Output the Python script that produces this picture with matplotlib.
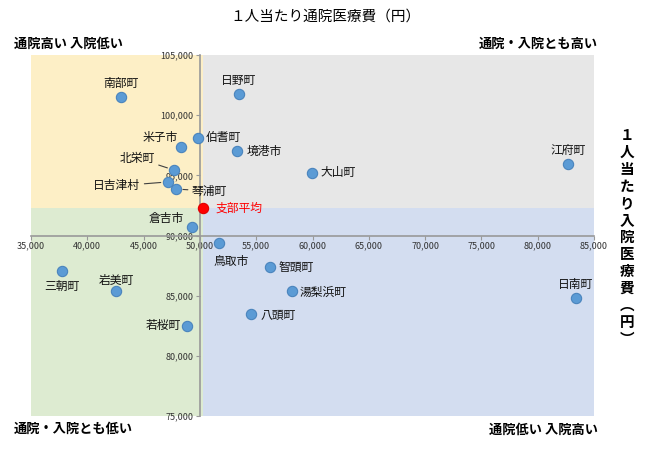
import matplotlib
matplotlib.use('Agg')
from matplotlib import pyplot as plt

plt.rcParams['font.family'] = ['Noto Sans CJK JP', 'DejaVu Sans']

# data: 通院 (x), 入院 (y)
names = ['南部町', '日野町', '米子市', '伯耆町', '境港市', '大山町', '江府町',
         '北栄町', '日吉津村', '琴浦町', '倉吉市', '鳥取市', '智頭町',
         '湯梨浜町', '八頭町', '若桜町', '三朝町', '岩美町', '日南町']
outpatient = [42990, 53470, 48350, 49800, 53320, 59950, 82720,
              47700, 47140, 47880, 49330, 51670, 56250,
              58150, 54570, 48830, 37780, 42580, 83400]
inpatient = [101510, 101760, 97380, 98130, 97020, 95220, 95970,
             95440, 94450, 93860, 90680, 89350, 87360,
             85360, 83480, 82480, 87050, 85360, 84810]
avg_name = '支部平均'
avg_x = 50280
avg_y = 92290

x_ticks = [35000, 40000, 45000, 50000, 55000, 60000, 65000, 70000, 75000, 80000, 85000]
y_ticks = [75000, 80000, 85000, 90000, 95000, 100000, 105000]

# label placement (ha, dx px, dy px, leader line)
label_pos = {
    '南部町': ('center', 0, 14, False),
    '日野町': ('center', 0, 13, False),
    '米子市': ('right', -4, 9, False),
    '伯耆町': ('left', 8, 0, False),
    '境港市': ('left', 9, 0, False),
    '大山町': ('left', 9, 0, False),
    '江府町': ('center', 0, 13, False),
    '北栄町': ('center', -37, 12, True),
    '日吉津村': ('center', -51, -4, True),
    '琴浦町': ('left', 16, -2, True),
    '倉吉市': ('right', -9, 9, False),
    '鳥取市': ('center', 12, -18, False),
    '智頭町': ('left', 8, 0, False),
    '湯梨浜町': ('left', 8, -1, False),
    '八頭町': ('left', 9, -2, False),
    '若桜町': ('right', -6, 1, False),
    '三朝町': ('center', 0, -15, False),
    '岩美町': ('center', 0, 11, False),
    '日南町': ('center', 0, 13, False),
}

fig = plt.figure(figsize=(6.5, 4.51), dpi=100)
ax = fig.add_axes([31 / 650, 1 - 416 / 451, 563 / 650, 361 / 451])
ax.set_xlim(35000, 85000)
ax.set_ylim(75000, 105000)

# quadrant backgrounds
ax.fill_between([35000, avg_x], avg_y, 105000, color='#fdefc6', lw=0, zorder=0)
ax.fill_between([avg_x, 85000], avg_y, 105000, color='#e7e7e7', lw=0, zorder=0)
ax.fill_between([35000, avg_x], 75000, avg_y, color='#ddebd1', lw=0, zorder=0)
ax.fill_between([avg_x, 85000], 75000, avg_y, color='#d3ddf0', lw=0, zorder=0)

ax.scatter(outpatient, inpatient, s=55, color='#5b9bd5', edgecolor='#4a84bd', lw=0.8, zorder=4)
ax.scatter([avg_x], [avg_y], s=55, color='#ff0000', edgecolor='#e00000', lw=0.8, zorder=4)

for n, x, y in zip(names, outpatient, inpatient):
    ha, dx, dy, leader = label_pos[n]
    kw = {}
    if leader:
        kw['arrowprops'] = dict(arrowstyle='-', color='#404040', lw=0.8, shrinkA=1, shrinkB=5)
    ax.annotate(n, (x, y), xytext=(dx, dy), textcoords='offset pixels',
                ha=ha, va='center', fontsize=8.5, color='#111111', zorder=5, **kw)
ax.annotate(avg_name, (avg_x, avg_y), xytext=(12, 0), textcoords='offset pixels',
            ha='left', va='center', fontsize=8.5, color='#ff0000', zorder=5)

# axes crossing inside the plot
for s in ['top', 'right']:
    ax.spines[s].set_visible(False)
ax.spines['left'].set_position(('data', 50000))
ax.spines['bottom'].set_position(('data', 90000))
for s in ['left', 'bottom']:
    ax.spines[s].set_color('#999999')
    ax.spines[s].set_linewidth(1.2)
    ax.spines[s].set_zorder(3)
ax.set_xticks(x_ticks)
ax.set_yticks(y_ticks)
ax.set_xticklabels([f'{v:,}' for v in x_ticks])
ax.set_yticklabels([f'{v:,}' for v in y_ticks])
ax.tick_params(length=3, color='#999999', labelsize=6.5, labelcolor='#333333', pad=1.5)

fig.text(0.5, 1 - 17 / 451, '１人当たり通院医療費（円）', ha='center', va='center', fontsize=10.5)
fig.text(14 / 650, 1 - 44 / 451, '通院高い 入院低い', ha='left', va='center', fontsize=9.5, fontweight='bold')
fig.text(598 / 650, 1 - 44 / 451, '通院・入院とも高い', ha='right', va='center', fontsize=9.5, fontweight='bold')
fig.text(14 / 650, 1 - 429 / 451, '通院・入院とも低い', ha='left', va='center', fontsize=9.5, fontweight='bold')
fig.text(598 / 650, 1 - 430 / 451, '通院低い 入院高い', ha='right', va='center', fontsize=9.5, fontweight='bold')

vlabel = ['１', '人', '当', 'た', 'り', '入', '院', '医', '療', '費', '︵', '円', '︶']
fig.text(627 / 650, 1 - 237 / 451, '\n'.join(vlabel), ha='center', va='center',
         fontsize=10.5, fontweight='bold', linespacing=1.08)

fig.savefig('out.png', dpi=100)
